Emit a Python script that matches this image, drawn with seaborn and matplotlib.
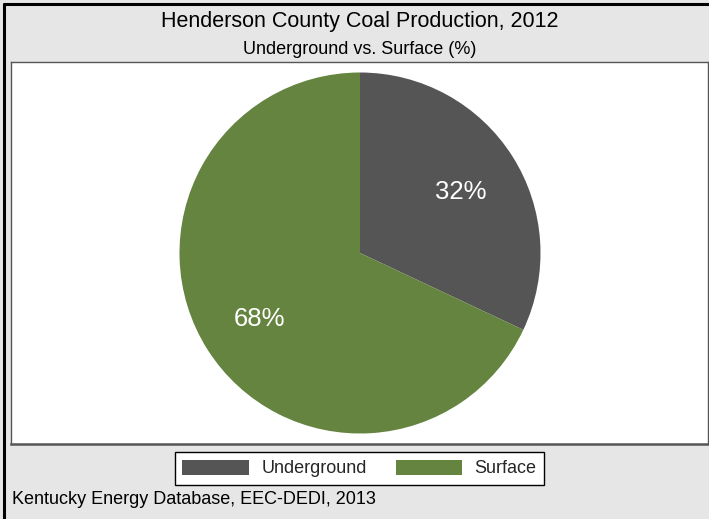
import matplotlib
matplotlib.use("Agg")
import matplotlib.pyplot as plt
from matplotlib.patches import Patch
from matplotlib.lines import Line2D
import seaborn as sns

# =========================
# DATA
# =========================
categories = ["Underground", "Surface"]
shares = [32, 68]
colors = ["#555555", "#64843f"]

title = "Henderson County Coal Production, 2012"
subtitle = "Underground vs. Surface (%)"
source = "Kentucky Energy Database, EEC-DEDI, 2013"

# =========================
# STYLE
# =========================
sns.set_theme(style="white")
plt.rcParams["font.family"] = ["Liberation Sans", "DejaVu Sans"]

W, H = 709, 519
fig = plt.figure(figsize=(W / 100, H / 100), dpi=100, facecolor="#e6e6e6")

# plot area (white box)
left, right, top, bottom = 11, 708, 62, 444
ax = fig.add_axes([left / W, 1 - bottom / H, (right - left) / W, (bottom - top) / H])
ax.set_facecolor("white")

wedges, texts, autotexts = ax.pie(
    shares,
    colors=colors,
    startangle=90,
    counterclock=False,
    autopct="%d%%",
    pctdistance=0.66,
    textprops={"color": "white", "fontsize": 18.5},
    wedgeprops={"linewidth": 0},
)
for t in autotexts:
    t.set_va("center_baseline")

# pie radius ~180 px, centre at x=360
r_px = 180.5
cx = 360
ax.set_aspect("auto")
ax.set_xlim(-(cx - left) / r_px, (right - cx) / r_px)
ax.set_ylim(-(bottom - top) / 2 / r_px, (bottom - top) / 2 / r_px)
ax.set_frame_on(True)
for s in ax.spines.values():
    s.set_visible(True)
    s.set_color("#555555")
    s.set_linewidth(1.0)
ax.spines["bottom"].set_linewidth(1.8)

# titles
fig.text(cx / W, 1 - 22 / H, title, ha="center", va="center", fontsize=15.5, color="black")
fig.text(cx / W, 1 - 50 / H, subtitle, ha="center", va="center", fontsize=13, color="black")

# legend
handles = [Patch(facecolor=c, edgecolor="none", label=l) for c, l in zip(colors, categories)]
fig.legend(
    handles=handles,
    loc="center",
    bbox_to_anchor=(359.5 / W, 1 - 468.5 / H),
    ncol=2,
    frameon=True,
    fancybox=False,
    edgecolor="black",
    facecolor="white",
    fontsize=13,
    handlelength=3.7,
    handleheight=0.95,
    handletextpad=0.67,
    columnspacing=1.6,
    borderpad=0.4,
    framealpha=1,
)

# source
fig.text(12 / W, 1 - 500 / H, source, ha="left", va="center", fontsize=13, color="black")

# outer border (left & top)
fig.add_artist(Line2D([4 / W, 4 / W], [0, 1 - 4 / H], color="black", linewidth=2.2, transform=fig.transFigure))
fig.add_artist(Line2D([4 / W, 1], [1 - 4 / H, 1 - 4 / H], color="black", linewidth=2.2, transform=fig.transFigure))

fig.savefig("out.png", dpi=100, facecolor=fig.get_facecolor())
